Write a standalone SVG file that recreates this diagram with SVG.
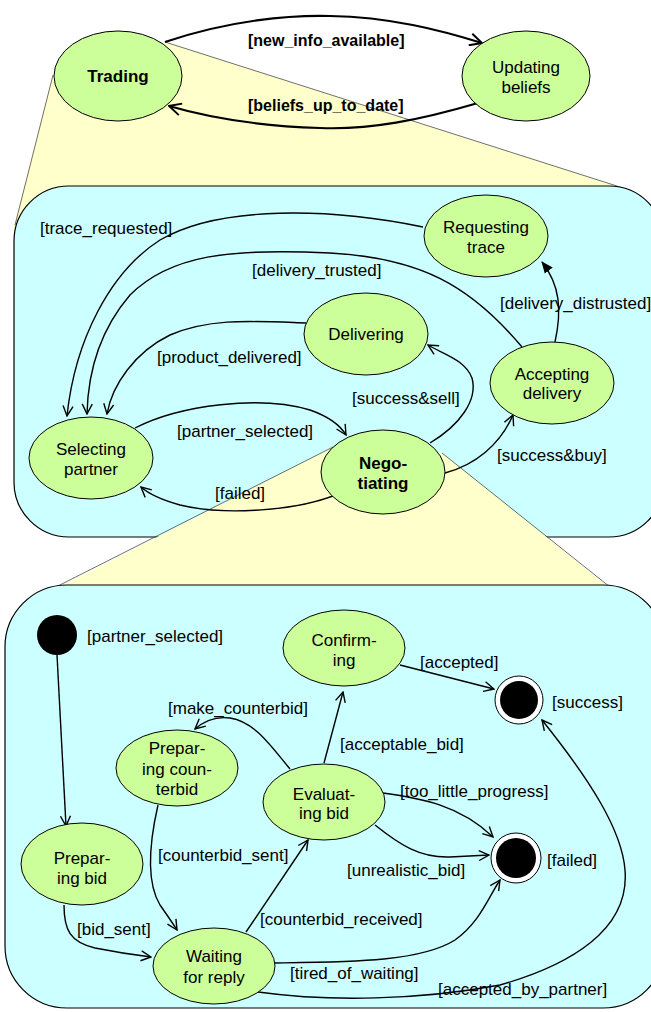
<svg xmlns="http://www.w3.org/2000/svg" width="651" height="1012" viewBox="0 0 651 1012">
<style>
.node{fill:#CCFF99;stroke:#000;stroke-width:1}
.panel{fill:#CCFFFF;stroke:#000;stroke-width:1.2}
.zoom{fill:#FFFFCC;stroke:none}
.zline{fill:none;stroke:#333;stroke-width:0.7}
.conn{fill:none;stroke:#000;stroke-width:1.4;marker-end:url(#open)}
.connb{fill:none;stroke:#000;stroke-width:2.2;marker-end:url(#openb)}
.t{font-family:"Liberation Sans",Arial,sans-serif;font-size:17px;fill:#000;dominant-baseline:central}
.c{text-anchor:middle}
.b{font-weight:bold}
.lb{font-size:16px}
</style>
<defs>
<marker id="open" viewBox="0 0 12 12" refX="11" refY="6" markerWidth="12" markerHeight="12" markerUnits="userSpaceOnUse" orient="auto"><path d="M1 1 L11 6 L1 11" fill="none" stroke="#000" stroke-width="1.4"/></marker>
<marker id="openb" viewBox="0 0 14 14" refX="13" refY="7" markerWidth="14" markerHeight="14" markerUnits="userSpaceOnUse" orient="auto"><path d="M1 1 L13 7 L1 13" fill="none" stroke="#000" stroke-width="2"/></marker>
<marker id="filled" viewBox="0 0 12 12" refX="11" refY="6" markerWidth="12" markerHeight="12" markerUnits="userSpaceOnUse" orient="auto"><path d="M0 1 L12 6 L0 11 Z" fill="#000"/></marker>
</defs>

<g id="zoom-trading">
<polygon class="zoom" points="165,42 620,187 620,260 14,260 14,225 53,75"/>
<line class="zline" x1="165" y1="42" x2="620" y2="187"/>
<line class="zline" x1="53" y1="75" x2="15" y2="225"/>
</g>
<g id="panel-trading">
<rect class="panel" x="14" y="186" width="650" height="351" rx="55" ry="55"/>
</g>
<g id="zoom-negotiating">
<polygon class="zoom" points="333,447 442,453 615,592 50,592"/>
<line class="zline" x1="333" y1="447" x2="50" y2="590"/>
<line class="zline" x1="442" y1="453" x2="615" y2="591"/>
</g>
<g id="panel-negotiating">
<rect class="panel" x="5" y="585" width="660" height="423" rx="62" ry="62"/>
</g>

<g id="connectors">
<path class="connb" d="M165 42 C230 20 290 15 330 16 C390 17 440 30 482 43"/>
<path class="connb" d="M478 103 C420 120 370 130 320 128 C260 126 210 118 169 106"/>
<text class="t b lb" x="248" y="40">[new_info_available]</text>
<text class="t b lb" x="248" y="105">[beliefs_up_to_date]</text>

<path class="conn" d="M423 227 C330 208 220 205 160 240 C110 272 75 340 67 416"/>
<path class="conn" d="M522 347 C470 285 420 258 330 253 C230 248 170 255 130 295 C100 330 88 370 87 414"/>
<path class="conn" d="M306 323 C250 321 210 318 170 335 C135 352 112 385 107 414"/>
<path class="conn" style="marker-end:url(#filled)" d="M555 342 C562 310 560 285 542 262"/>
<path class="conn" d="M135 428 C180 405 260 395 310 410 C330 417 340 425 346 435"/>
<path class="conn" d="M333 496 C290 512 220 515 180 505 C162 500 150 495 141 487"/>
<path class="conn" d="M430 443 C460 425 478 400 472 378 C465 360 445 355 428 345"/>
<path class="conn" d="M445 473 C475 465 500 445 513 415"/>
<text class="t" x="40" y="228">[trace_requested]</text>
<text class="t" x="252" y="270">[delivery_trusted]</text>
<text class="t" x="500" y="303">[delivery_distrusted]</text>
<text class="t" x="157" y="357">[product_delivered]</text>
<text class="t" x="352" y="398">[success&amp;sell]</text>
<text class="t" x="177" y="431">[partner_selected]</text>
<text class="t" x="497" y="455">[success&amp;buy]</text>
<text class="t" x="215" y="493">[failed]</text>

<path class="conn" d="M57 655 L66 826"/>
<path class="conn" d="M64 905 C64 930 70 942 95 948 C115 952 135 955 151 957"/>
<path class="conn" d="M158 805 C150 840 145 880 160 905 C167 915 172 922 177 930"/>
<path class="conn" d="M246 932 L308 840"/>
<path class="conn" d="M290 769 C270 745 255 722 230 718 C215 716 203 722 195 729"/>
<path class="conn" d="M324 763 L343 692"/>
<path class="conn" d="M400 665 L494 689"/>
<path class="conn" d="M383 793 C420 798 460 805 493 837"/>
<path class="conn" d="M375 825 C400 845 420 858 450 857 L489 855"/>
<path class="conn" d="M275 963 C350 962 420 962 455 940 C480 922 488 898 500 880"/>
<path class="conn" d="M258 992 C330 1002 420 1000 500 985 C570 965 630 930 625 870 C622 830 590 780 542 720"/>
<text class="t" x="87" y="636">[partner_selected]</text>
<text class="t" x="420" y="662">[accepted]</text>
<text class="t" x="552" y="702">[success]</text>
<text class="t" x="168" y="708">[make_counterbid]</text>
<text class="t" x="340" y="744">[acceptable_bid]</text>
<text class="t" x="400" y="791">[too_little_progress]</text>
<text class="t" x="158" y="855">[counterbid_sent]</text>
<text class="t" x="547" y="860">[failed]</text>
<text class="t" x="347" y="870">[unrealistic_bid]</text>
<text class="t" x="260" y="919">[counterbid_received]</text>
<text class="t" x="77" y="929">[bid_sent]</text>
<text class="t" x="290" y="973">[tired_of_waiting]</text>
<text class="t" x="438" y="989">[accepted_by_partner]</text>
</g>

<g id="trading"><ellipse class="node" cx="118" cy="76" rx="64" ry="45"/><text class="t c b" x="118" y="76">Trading</text></g>
<g id="updating-beliefs"><ellipse class="node" cx="526" cy="76" rx="64" ry="45"/><text class="t c" x="526" y="67">Updating</text><text class="t c" x="526" y="87">beliefs</text></g>

<g id="requesting-trace"><ellipse class="node" cx="486" cy="236" rx="62" ry="41"/><text class="t c" x="486" y="227">Requesting</text><text class="t c" x="486" y="247">trace</text></g>
<g id="delivering"><ellipse class="node" cx="366" cy="334" rx="62" ry="41"/><text class="t c" x="366" y="334">Delivering</text></g>
<g id="accepting-delivery"><ellipse class="node" cx="552" cy="383" rx="62" ry="41"/><text class="t c" x="552" y="374">Accepting</text><text class="t c" x="552" y="393">delivery</text></g>
<g id="selecting-partner"><ellipse class="node" cx="91" cy="458" rx="62" ry="41"/><text class="t c" x="91" y="449">Selecting</text><text class="t c" x="91" y="469">partner</text></g>
<g id="negotiating"><ellipse class="node" cx="383" cy="472" rx="62" ry="42"/><text class="t c b" x="383" y="463">Nego-</text><text class="t c b" x="383" y="483">tiating</text></g>

<g id="initial"><circle cx="57" cy="635" r="20" fill="#000"/></g>
<g id="confirming"><ellipse class="node" cx="344" cy="648" rx="61" ry="38"/><text class="t c" x="344" y="640">Confirm-</text><text class="t c" x="344" y="660">ing</text></g>
<g id="final-success"><circle cx="519" cy="700" r="24" fill="#fff" stroke="#000" stroke-width="1"/><circle cx="519" cy="700" r="19" fill="#000"/></g>
<g id="preparing-counterbid"><ellipse class="node" cx="177" cy="768" rx="61" ry="38"/><text class="t c" x="177" y="748">Prepar-</text><text class="t c" x="177" y="769">ing coun-</text><text class="t c" x="177" y="789">terbid</text></g>
<g id="evaluating-bid"><ellipse class="node" cx="324" cy="802" rx="61" ry="38"/><text class="t c" x="324" y="794">Evaluat-</text><text class="t c" x="324" y="813">ing bid</text></g>
<g id="final-failed"><circle cx="516" cy="858" r="25" fill="#fff" stroke="#000" stroke-width="1"/><circle cx="516" cy="858" r="20" fill="#000"/></g>
<g id="preparing-bid"><ellipse class="node" cx="82" cy="864" rx="61" ry="41"/><text class="t c" x="82" y="858">Prepar-</text><text class="t c" x="82" y="878">ing bid</text></g>
<g id="waiting-for-reply"><ellipse class="node" cx="214" cy="966" rx="61" ry="38"/><text class="t c" x="214" y="956">Waiting</text><text class="t c" x="214" y="977">for reply</text></g>
</svg>
